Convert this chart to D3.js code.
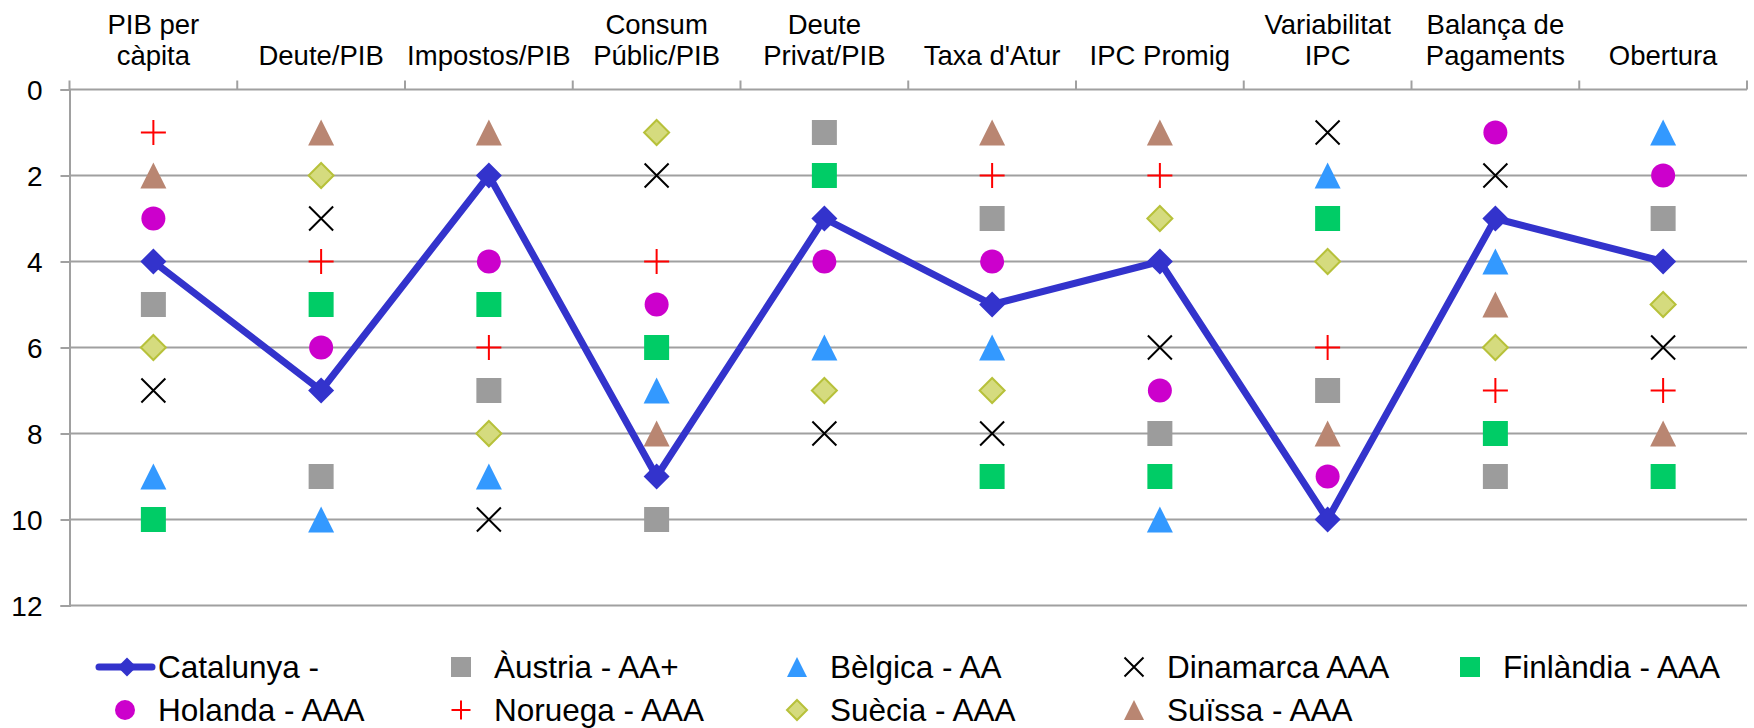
<!DOCTYPE html>
<html>
<head>
<meta charset="utf-8">
<script src="https://cdn.jsdelivr.net/npm/d3@7"></script>
<style>
  html, body { margin: 0; padding: 0; background: #fff; }
  svg { display: block; font-family: "Liberation Sans", Arial, sans-serif; }
</style>
</head>
<body>
<svg id="chart" width="1754" height="728"></svg>
<script>
// Rànquing per indicador (1 = millor posició)
const categories = ["PIB per\ncàpita", "Deute/PIB", "Impostos/PIB", "Consum\nPúblic/PIB", "Deute\nPrivat/PIB",
  "Taxa d'Atur", "IPC Promig", "Variabilitat\nIPC", "Balança de\nPagaments", "Obertura"];
const yTicks = [0, 2, 4, 6, 8, 10, 12];

const catalunya = [4, 7, 2, 9, 3, 5, 4, 10, 3, 4];
const austria   = [5, 9, 7, 10, 1, 3, 8, 7, 9, 3];
const belgica   = [9, 10, 9, 7, 6, 6, 10, 2, 4, 1];
const dinamarca = [7, 3, 10, 2, 8, 8, 6, 1, 2, 6];
const finlandia = [10, 5, 5, 6, 2, 9, 9, 3, 8, 9];
const holanda   = [3, 6, 4, 5, 4, 4, 7, 9, 1, 2];
const noruega   = [1, 4, 6, 4, null, 2, 2, 6, 7, 7];
const suecia    = [6, 2, 8, 1, 7, 7, 3, 4, 6, 5];
const suissa    = [2, 1, 1, 8, null, 1, 1, 8, 5, 8];

const seriesNames = ["Catalunya -", "Àustria - AA+", "Bèlgica - AA", "Dinamarca AAA", "Finlàndia - AAA",
  "Holanda - AAA", "Noruega - AAA", "Suècia - AAA", "Suïssa - AAA"];

// Custom marker shapes (size = full width in px)
const shapes = {
  square: { draw(ctx, s) { const h = s / 2; ctx.rect(-h, -h, s, s); } },
  triangle: { draw(ctx, s) { const h = s / 2; ctx.moveTo(0, -h); ctx.lineTo(h, h); ctx.lineTo(-h, h); ctx.closePath(); } },
  diamond: { draw(ctx, s) { const h = s / 2; ctx.moveTo(0, -h); ctx.lineTo(h, 0); ctx.lineTo(0, h); ctx.lineTo(-h, 0); ctx.closePath(); } },
  circle: { draw(ctx, s) { const r = s / 2; ctx.moveTo(r, 0); ctx.arc(0, 0, r, 0, 2 * Math.PI); } },
  cross: { draw(ctx, s) { const h = s / 2; ctx.moveTo(-h, -h); ctx.lineTo(h, h); ctx.moveTo(h, -h); ctx.lineTo(-h, h); } },
  plus: { draw(ctx, s) { const h = s / 2; ctx.moveTo(-h, 0); ctx.lineTo(h, 0); ctx.moveTo(0, -h); ctx.lineTo(0, h); } }
};

const series = [
  { name: seriesNames[0], values: catalunya, shape: "diamond", size: 26, fill: "#3333CC", stroke: "none", line: true },
  { name: seriesNames[1], values: austria,   shape: "square",  size: 25, fill: "#9C9C9C", stroke: "none" },
  { name: seriesNames[2], values: belgica,   shape: "triangle", size: 26, fill: "#3399FF", stroke: "none" },
  { name: seriesNames[3], values: dinamarca, shape: "cross",   size: 24, fill: "none", stroke: "#000000", sw: 2 },
  { name: seriesNames[4], values: finlandia, shape: "square",  size: 25, fill: "#00CC66", stroke: "none" },
  { name: seriesNames[5], values: holanda,   shape: "circle",  size: 24, fill: "#CC00CC", stroke: "none" },
  { name: seriesNames[6], values: noruega,   shape: "plus",    size: 25, fill: "none", stroke: "#FF0000", sw: 2 },
  { name: seriesNames[7], values: suecia,    shape: "diamond", size: 25, fill: "#D5DB7E", stroke: "#B7C13A", sw: 2 },
  { name: seriesNames[8], values: suissa,    shape: "triangle", size: 26, fill: "#B98672", stroke: "none" }
];

const svg = d3.select("#chart");
const plotLeft = 69.5, plotRight = 1747, plotTop = 89.5, plotBottom = 605.5;

const x = d3.scaleBand().domain(categories).range([plotLeft, plotRight]).paddingInner(0).paddingOuter(0);
const cx = c => x(c) + x.bandwidth() / 2;
const y = d3.scaleLinear().domain([0, 12]).range([plotTop, plotBottom]);

const gridColor = "#A0A0A0";

// Horizontal gridlines (2..12)
svg.append("g").selectAll("line").data(yTicks.filter(t => t !== 0)).join("line")
  .attr("x1", plotLeft).attr("x2", plotRight)
  .attr("y1", d => y(d)).attr("y2", d => y(d))
  .attr("stroke", gridColor).attr("stroke-width", 2);

// Left value axis
const yAxis = d3.axisLeft(y).tickValues(yTicks).tickSize(9).tickPadding(18).tickFormat(d3.format("d"));
const gy = svg.append("g").attr("transform", `translate(${plotLeft},0)`).call(yAxis);
gy.select(".domain").attr("stroke", gridColor).attr("stroke-width", 2);
gy.selectAll(".tick line").attr("stroke", gridColor).attr("stroke-width", 2);
gy.selectAll(".tick text").attr("font-size", 28).attr("fill", "#000")
  .attr("font-family", "'Liberation Sans', Arial, sans-serif").attr("dy", "0.36em");

// Top category axis (ranking 0 line) with boundary ticks
const boundaries = categories.map(c => x(c)).concat([plotRight]);
svg.append("line").attr("x1", plotLeft).attr("x2", plotRight).attr("y1", y(0)).attr("y2", y(0))
  .attr("stroke", gridColor).attr("stroke-width", 2);
svg.append("g").selectAll("line").data(boundaries).join("line")
  .attr("x1", d => d).attr("x2", d => d)
  .attr("y1", y(0)).attr("y2", y(0) - 9)
  .attr("stroke", gridColor).attr("stroke-width", 2);

// Category labels (bottom-aligned above the axis)
const catLabels = svg.append("g").selectAll("text").data(categories).join("text")
  .attr("x", d => cx(d)).attr("text-anchor", "middle")
  .attr("font-size", 27.5).attr("fill", "#000");
catLabels.each(function(d) {
  const lines = d.split("\n");
  const t = d3.select(this);
  lines.forEach((ln, i) => {
    t.append("tspan").attr("x", cx(d))
      .attr("y", 65 - (lines.length - 1 - i) * 31)
      .text(ln);
  });
});

// Series: Catalunya line plus markers for every country
const line = d3.line().defined(d => d.v != null).x(d => cx(d.c)).y(d => y(d.v));
const plot = svg.append("g");
series.forEach(s => {
  const pts = categories.map((c, i) => ({ c, v: s.values[i] }));
  if (s.line) {
    plot.append("path").datum(pts).attr("d", line)
      .attr("fill", "none").attr("stroke", s.fill).attr("stroke-width", 7).attr("stroke-linejoin", "round");
  }
  plot.append("g").selectAll("path").data(pts.filter(p => p.v != null)).join("path")
    .attr("transform", p => `translate(${cx(p.c)},${y(p.v)})`)
    .attr("d", d3.symbol().type(shapes[s.shape]).size(s.size))
    .attr("fill", s.fill).attr("stroke", s.stroke).attr("stroke-width", s.sw || 0);
});

// Legend
const legendCols = [158, 494, 830, 1167, 1503];
const legendRows = [667, 710];
const legend = svg.append("g");
series.forEach((s, i) => {
  const col = i % 5, row = Math.floor(i / 5);
  const tx = legendCols[col], ty = legendRows[row];
  const g = legend.append("g");
  if (s.line) {
    g.append("line").attr("x1", 99).attr("x2", 152).attr("y1", ty).attr("y2", ty)
      .attr("stroke", s.fill).attr("stroke-width", 7).attr("stroke-linecap", "round");
    g.append("path").attr("transform", `translate(127,${ty})`)
      .attr("d", d3.symbol().type(shapes[s.shape]).size(19)).attr("fill", s.fill);
  } else {
    const mx = tx - 33;
    g.append("path").attr("transform", `translate(${mx},${ty})`)
      .attr("d", d3.symbol().type(shapes[s.shape]).size(s.shape === "cross" || s.shape === "plus" ? 19 : 20))
      .attr("fill", s.fill).attr("stroke", s.stroke).attr("stroke-width", s.sw || 0);
  }
  g.append("text").attr("x", tx).attr("y", ty).attr("dy", "0.36em")
    .attr("font-size", 31.5).attr("fill", "#000").text(s.name);
});
</script>
</body>
</html>
